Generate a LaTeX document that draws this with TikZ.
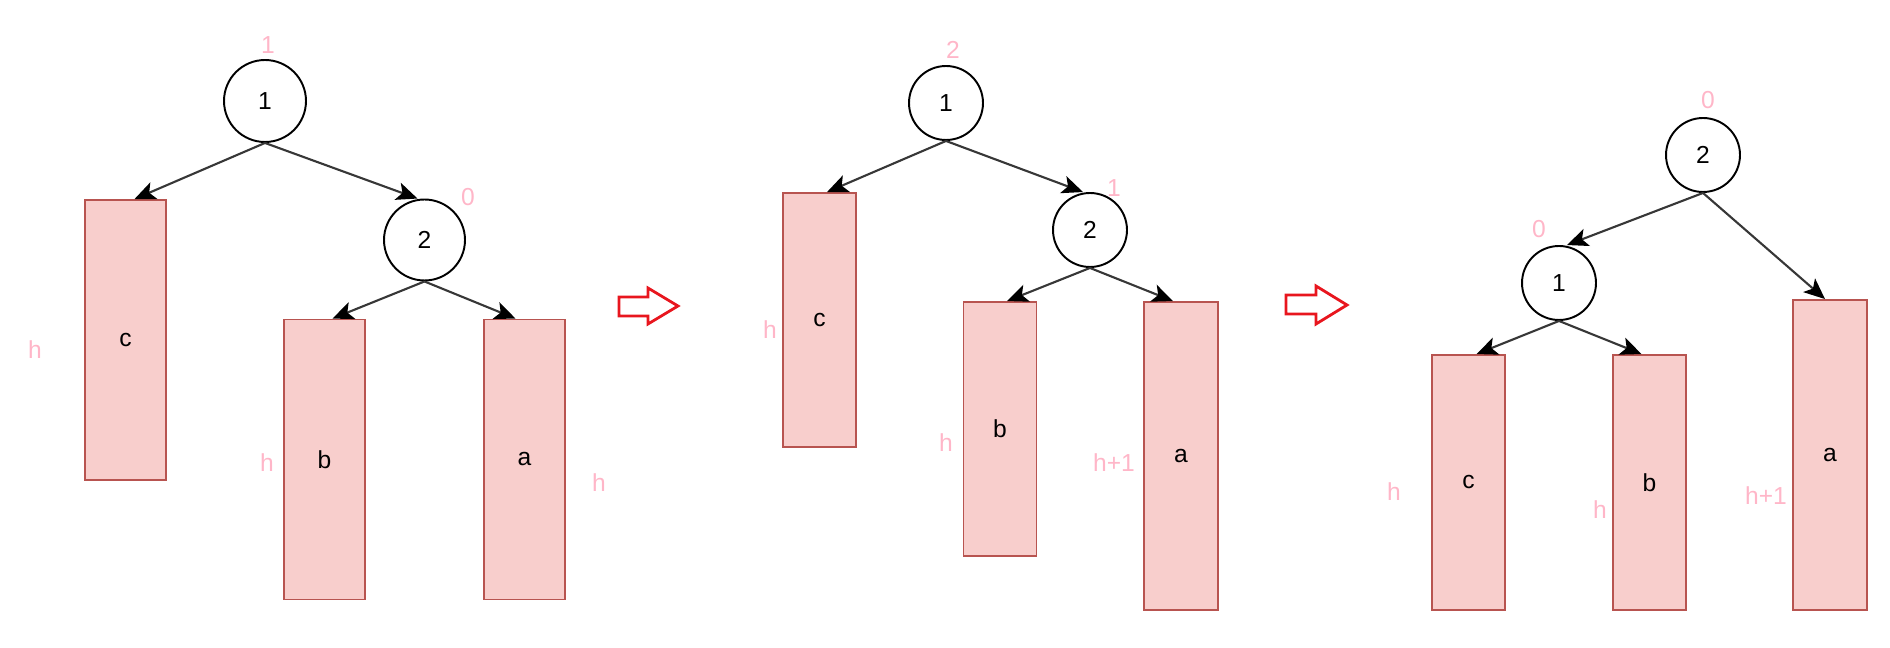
\documentclass[tikz,border=0pt]{standalone}
\usepackage{fontspec}
\setmainfont{Liberation Sans}
\usepackage{tikz}
\usetikzlibrary{arrows.meta,positioning}
\definecolor{subfill}{HTML}{F8CECC}
\definecolor{subdraw}{HTML}{B85450}
\definecolor{hpink}{RGB}{255,182,200}
\definecolor{edgegray}{RGB}{55,55,55}
\definecolor{shiftred}{RGB}{232,22,30}

\begin{document}
\begin{tikzpicture}[
    x=0.02cm,y=-0.02cm,
    font=\fontsize{14}{16}\selectfont,
    tnode/.style={draw,circle,line width=1.1pt,fill=white,
                  minimum size=1.48cm,inner sep=0pt},
    sub/.style={draw=subdraw,fill=subfill,line width=1.1pt,
                minimum width=1.46cm,minimum height=5.08cm,inner sep=0pt},
    arr/.style={-{Stealth[length=0.42cm,width=0.36cm,inset=0.1cm,black]},
                edgegray,line width=1.2pt},
    lbl/.style={text=hpink,inner sep=1pt},
    shiftarr/.style={draw=shiftred,line width=1.6pt,line join=miter},
  ]
  \useasboundingbox (0,0) rectangle (1890,648);

  % first tree
  \node[tnode,minimum size=1.64cm](p1n1) at (265,101){1};
  \node[tnode,minimum size=1.62cm](p1n2) at (424.5,240){2};
  \node[sub,minimum width=1.62cm,minimum height=5.6cm](p1c) at (125.5,340){c};
  \node[sub,minimum width=1.62cm,minimum height=5.6cm](p1b) at (324.5,459.5){b};
  \node[sub,minimum width=1.62cm,minimum height=5.6cm](p1a) at (524.5,459.5){a};
  \node[lbl](p1l1) at (268,45){1};
  \node[lbl](p1l2) at (468,197){0};
  \node[lbl](p1hc) at (35,350){h};
  \node[lbl](p1hb) at (267,463){h};
  \node[lbl](p1ha) at (599,483){h};
  \draw[arr](p1n1.south)--([xshift=0.18cm]p1c.north);
  \draw[arr](p1n1.south)--([xshift=-0.14cm]p1n2.north);
  \draw[arr](p1n2.south)--([xshift=0.16cm]p1b.north);
  \draw[arr](p1n2.south)--([xshift=-0.18cm]p1a.north);

  \draw[shiftarr](619,297)--(648,297)--(648,288)--(678,306)--(648,324)
    --(648,316)--(619,316)--cycle;

  % second tree
  \node[tnode](p2n1) at (946,103){1};
  \node[tnode](p2n2) at (1090,230){2};
  \node[sub](p2c) at (819.5,320){c};
  \node[sub](p2b) at (1000,429){b};
  \node[sub,minimum width=1.48cm,minimum height=6.16cm](p2a) at (1181,456){a};
  \node[lbl](p2l1) at (953,50){2};
  \node[lbl](p2l2) at (1114,188){1};
  \node[lbl](p2hc) at (770,330){h};
  \node[lbl](p2hb) at (946,443){h};
  \node[lbl](p2ha) at (1114,463){h+1};
  \draw[arr](p2n1.south)--([xshift=0.15cm]p2c.north);
  \draw[arr](p2n1.south)--([xshift=-0.14cm]p2n2.north);
  \draw[arr](p2n2.south)--([xshift=0.14cm]p2b.north);
  \draw[arr](p2n2.south)--([xshift=-0.16cm]p2a.north);

  \draw[shiftarr](1286,295)--(1316,295)--(1316,286)--(1347,305)--(1316,324)
    --(1316,314)--(1286,314)--cycle;

  % third tree
  \node[tnode](p3n2) at (1703,155){2};
  \node[tnode](p3n1) at (1559,283){1};
  \node[sub,minimum height=5.1cm](p3c) at (1468.5,482.5){c};
  \node[sub,minimum height=5.1cm](p3b) at (1649.5,482.5){b};
  \node[sub,minimum width=1.48cm,minimum height=6.2cm](p3a) at (1830,455){a};
  \node[lbl](p3l2) at (1708,100){0};
  \node[lbl](p3l1) at (1539,229){0};
  \node[lbl](p3hc) at (1394,492){h};
  \node[lbl](p3hb) at (1600,510){h};
  \node[lbl](p3ha) at (1766,496){h+1};
  \draw[arr](p3n2.south)--([xshift=0.16cm]p3n1.north);
  \draw[arr](p3n2.south)--([xshift=-0.1cm]p3a.north);
  \draw[arr](p3n1.south)--([xshift=0.16cm]p3c.north);
  \draw[arr](p3n1.south)--([xshift=-0.16cm]p3b.north);
\end{tikzpicture}
\end{document}
